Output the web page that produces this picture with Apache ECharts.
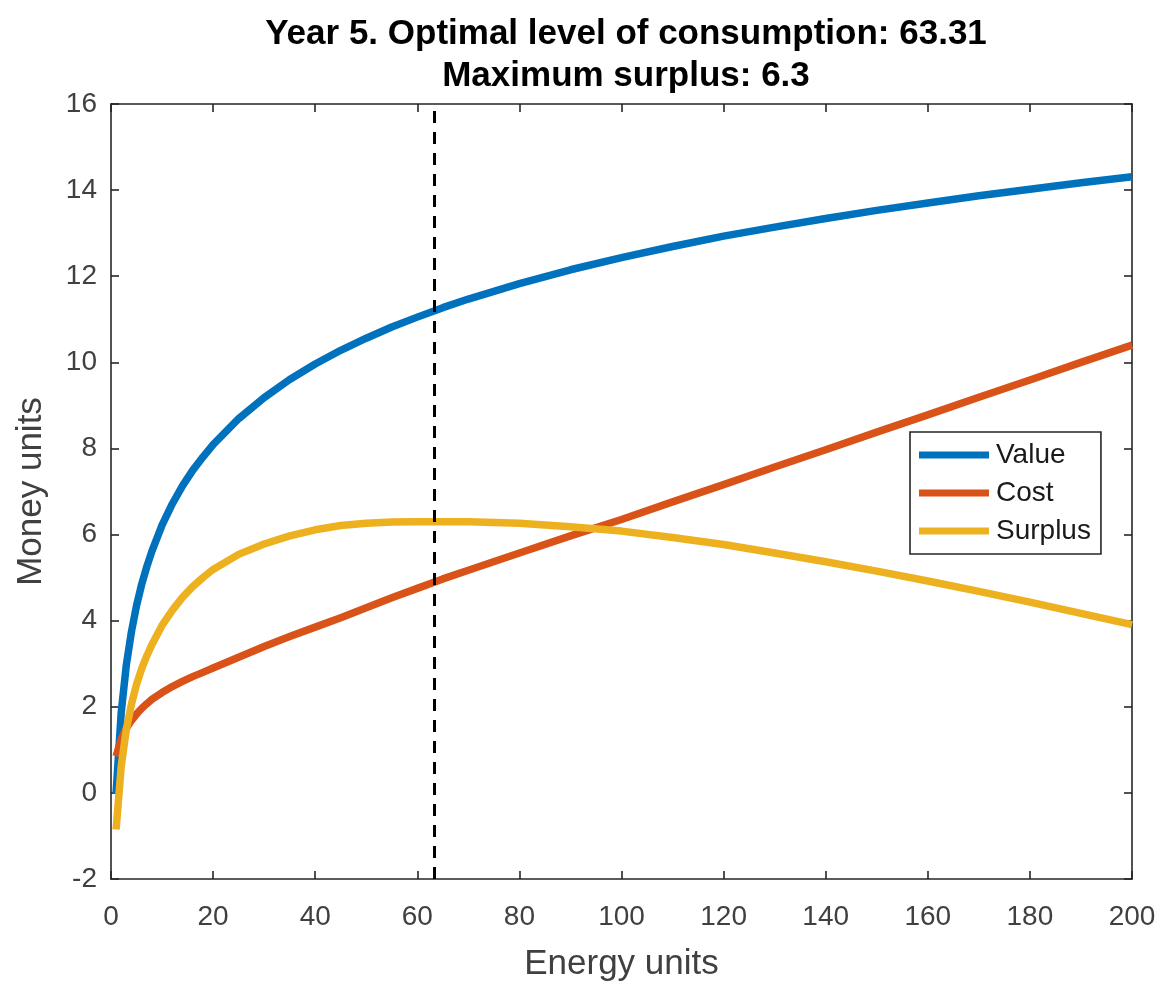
<!DOCTYPE html>
<html>
<head>
<meta charset="utf-8">
<title>Year 5 consumption</title>
<script src="https://cdn.jsdelivr.net/npm/echarts@6/dist/echarts.min.js"></script>
<style>
  html, body { margin: 0; padding: 0; background: #fff; }
  #chart { width: 1161px; height: 983px; }
</style>
</head>
<body>
<div id="chart"></div>
<script>
// Energy consumed (x) and the money values of each curve at those levels
const energy = [1, 2, 3, 4, 5, 6, 7, 8, 10, 12, 14, 16, 18, 20, 25, 30, 35, 40, 45, 50, 55, 60, 65, 70, 80, 90, 100, 110, 120, 130, 140, 150, 160, 170, 180, 190, 200];
const valueSeries = [0, 1.87, 2.97, 3.74, 4.35, 4.84, 5.25, 5.61, 6.22, 6.71, 7.13, 7.49, 7.80, 8.09, 8.69, 9.18, 9.60, 9.96, 10.28, 10.56, 10.82, 11.05, 11.27, 11.47, 11.83, 12.15, 12.43, 12.69, 12.93, 13.14, 13.34, 13.53, 13.70, 13.87, 14.02, 14.17, 14.31];
const costSeries = [0.85, 1.25, 1.50, 1.68, 1.83, 1.96, 2.07, 2.17, 2.33, 2.47, 2.59, 2.70, 2.80, 2.90, 3.15, 3.40, 3.63, 3.85, 4.07, 4.30, 4.53, 4.75, 4.97, 5.17, 5.57, 5.97, 6.35, 6.76, 7.16, 7.57, 7.97, 8.38, 8.78, 9.19, 9.59, 10.00, 10.40];
const surplusSeries = [-0.85, 0.62, 1.47, 2.06, 2.52, 2.88, 3.18, 3.44, 3.89, 4.24, 4.54, 4.79, 5.00, 5.19, 5.54, 5.78, 5.97, 6.11, 6.21, 6.26, 6.29, 6.30, 6.30, 6.30, 6.26, 6.18, 6.08, 5.93, 5.77, 5.57, 5.37, 5.15, 4.92, 4.68, 4.43, 4.17, 3.91];
const seriesNames = ['Value', 'Cost', 'Surplus'];
const optimalLevel = 63.31;
const maxSurplus = 6.3;
const xTicks = { min: 0, max: 200, step: 20 };
const yTicks = { min: -2, max: 16, step: 2 };

const FONT = '"Liberation Sans", Arial, Helvetica, sans-serif';
const AXIS_COLOR = '#262626';
const LABEL_COLOR = '#404040';
const colors = ['#0072BD', '#D95319', '#EDB120'];

const pairs = ys => energy.map((x, i) => [x, ys[i]]);

// A value axis; the unlabeled copies close the box on the top and right
function boxAxis(extra, ticks, showLabels) {
  return Object.assign({
    type: 'value',
    min: ticks.min,
    max: ticks.max,
    interval: ticks.step,
    splitLine: { show: false },
    axisLine: { show: true, onZero: false, lineStyle: { color: AXIS_COLOR, width: 1.6 } },
    axisTick: { show: true, inside: true, length: 8, lineStyle: { color: AXIS_COLOR, width: 1.6 } },
    axisLabel: showLabels
      ? { show: true, color: LABEL_COLOR, fontSize: 28, fontFamily: FONT }
      : { show: false }
  }, extra);
}

const chart = echarts.init(document.getElementById('chart'), null, { renderer: 'canvas' });

const lineSeries = [valueSeries, costSeries, surplusSeries].map((ys, i) => ({
  name: seriesNames[i],
  type: 'line',
  data: pairs(ys),
  xAxisIndex: 0,
  yAxisIndex: 0,
  showSymbol: false,
  smooth: false,
  lineStyle: { color: colors[i], width: 7.5, join: 'round', cap: 'butt' },
  itemStyle: { color: colors[i] },
  z: 3 + i
}));

// Vertical dashed marker at the optimal consumption level
lineSeries[0].markLine = {
  silent: true,
  symbol: ['none', 'none'],
  label: { show: false },
  lineStyle: { color: '#000', type: [12, 9], width: 3 },
  data: [{ xAxis: optimalLevel }],
  z: 10
};

chart.setOption({
  animation: false,
  backgroundColor: '#fff',
  color: colors,
  title: {
    text: 'Year 5. Optimal level of consumption: ' + optimalLevel + '\nMaximum surplus: ' + maxSurplus,
    left: 621,
    top: 8,
    textAlign: 'center',
    textStyle: { fontFamily: FONT, fontSize: 35, fontWeight: 'bold', color: '#000', lineHeight: 42 }
  },
  grid: { left: 111, right: 29, top: 104, bottom: 104, containLabel: false, outerBoundsMode: 'none' },
  legend: {
    orient: 'vertical',
    left: 910,
    top: 432,
    data: seriesNames,
    icon: 'rect',
    itemWidth: 70,
    itemHeight: 7,
    itemGap: 10,
    padding: [9, 10, 9, 9],
    borderColor: '#262626',
    borderWidth: 1.6,
    backgroundColor: '#fff',
    textStyle: { fontFamily: FONT, fontSize: 28, color: '#1a1a1a', padding: [0, 0, 0, 2] }
  },
  xAxis: [
    boxAxis({
      position: 'bottom',
      name: 'Energy units',
      nameLocation: 'middle',
      nameGap: 68,
      nameTextStyle: { fontFamily: FONT, fontSize: 35, color: LABEL_COLOR },
      axisLabel: { show: true, color: LABEL_COLOR, fontSize: 28, fontFamily: FONT, margin: 24 }
    }, xTicks, true),
    boxAxis({ position: 'top' }, xTicks, false)
  ],
  yAxis: [
    boxAxis({
      position: 'left',
      name: 'Money units',
      nameLocation: 'middle',
      nameGap: 62,
      nameTextStyle: { fontFamily: FONT, fontSize: 35, color: LABEL_COLOR },
      axisLabel: { show: true, color: LABEL_COLOR, fontSize: 28, fontFamily: FONT, margin: 14, padding: [6, 0, 0, 0] }
    }, yTicks, true),
    boxAxis({ position: 'right' }, yTicks, false)
  ],
  series: lineSeries
});
</script>
</body>
</html>
